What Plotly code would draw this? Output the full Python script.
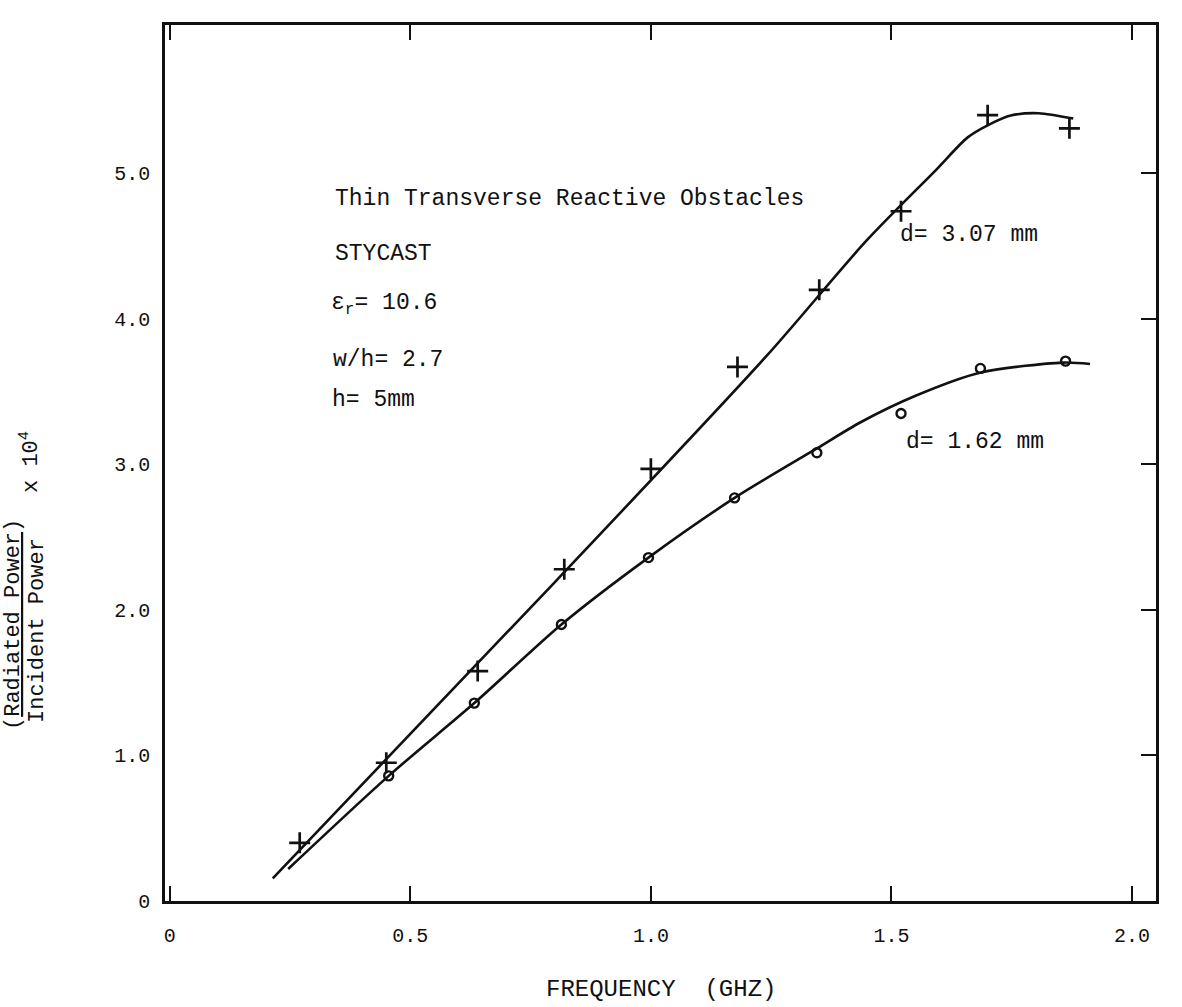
import plotly.graph_objects as go

# ---- data ----
plus_x = [0.27, 0.45, 0.64, 0.82, 1.00, 1.18, 1.35, 1.52, 1.70, 1.87]
plus_y = [0.40, 0.95, 1.58, 2.28, 2.97, 3.67, 4.20, 4.74, 5.40, 5.31]

circ_x = [0.455, 0.633, 0.814, 0.995, 1.174, 1.345, 1.52, 1.685, 1.862]
circ_y = [0.86, 1.36, 1.90, 2.36, 2.77, 3.08, 3.35, 3.66, 3.71]

curve_a_x = [0.214, 0.80, 1.24, 1.449, 1.593, 1.658, 1.701, 1.75, 1.806, 1.878]
curve_a_y = [0.156, 2.19, 3.744, 4.541, 5.025, 5.246, 5.332, 5.399, 5.414, 5.377]

curve_b_x = [0.246, 0.455, 0.633, 0.814, 0.995, 1.174, 1.345, 1.436, 1.549, 1.684, 1.857, 1.913]
curve_b_y = [0.22, 0.86, 1.36, 1.90, 2.36, 2.77, 3.11, 3.29, 3.47, 3.63, 3.70, 3.69]

x_ticks = [0, 0.5, 1.0, 1.5, 2.0]
x_ticktext = ["0", "0.5", "1.0", "1.5", "2.0"]
y_ticks = [0, 1, 2, 3, 4, 5]
y_ticktext = ["0", "1.0", "2.0", "3.0", "4.0", "5.0"]
y_right_ticks = [1, 2, 3, 4, 5]

X_RANGE = [-0.01, 2.05]
Y_RANGE = [0, 6.02]

FONT = "Liberation Mono, Courier New, monospace"
INK = "#111111"

# plot-area geometry (pixels)
L, R, T, B = 165, 1156, 25, 901
W, H = 1182, 1007


def px(x):
    return (x - L) / (R - L)


def py(y):
    return (B - y) / (B - T)


fig = go.Figure()

fig.add_trace(go.Scatter(x=curve_a_x, y=curve_a_y, mode="lines",
                         line=dict(color=INK, width=2.6, shape="spline", smoothing=0.8),
                         showlegend=False, hoverinfo="skip"))
fig.add_trace(go.Scatter(x=curve_b_x, y=curve_b_y, mode="lines",
                         line=dict(color=INK, width=2.6, shape="spline", smoothing=0.8),
                         showlegend=False, hoverinfo="skip"))
fig.add_trace(go.Scatter(x=plus_x, y=plus_y, mode="markers",
                         marker=dict(symbol="cross-thin", size=15, color=INK,
                                     line=dict(color=INK, width=2.7)),
                         showlegend=False))
fig.add_trace(go.Scatter(x=circ_x, y=circ_y, mode="markers",
                         marker=dict(symbol="circle-open", size=9, color=INK,
                                     line=dict(color=INK, width=2.4)),
                         showlegend=False))
# helper (empty) trace so the right-hand tick axis is drawn
fig.add_trace(go.Scatter(x=[], y=[], yaxis="y2", showlegend=False))

annotations = []


def note(text, x, y, size, xanchor="left", angle=0):
    annotations.append(dict(text=text, x=px(x), y=py(y), xref="paper", yref="paper",
                            xanchor=xanchor, yanchor="middle", showarrow=False,
                            textangle=angle,
                            font=dict(family=FONT, size=size, color=INK)))


note("Thin Transverse Reactive Obstacles", 333, 199, 23)
note("STYCAST", 333, 254, 23)
note("ε<sub>r</sub>= 10.6", 329, 304, 23)
note("w/h= 2.7", 331, 360, 23)
note("h= 5mm", 330, 400, 23)
note("d= 3.07 mm", 898, 235, 23)
note("d= 1.62 mm", 904, 442, 23)

note("FREQUENCY  (GHZ)", 661, 990, 24, xanchor="center")
note("(<u>Radiated Power</u>)", 13, 625, 22, xanchor="center", angle=-90)
note("Incident Power", 37, 631, 22, xanchor="center", angle=-90)
note("x 10<sup>4</sup>", 30, 462, 22, xanchor="center", angle=-90)

fig.update_layout(
    width=W, height=H,
    margin=dict(l=L, r=W - R, t=T, b=H - B),
    paper_bgcolor="white", plot_bgcolor="white",
    showlegend=False,
    annotations=annotations,
    xaxis=dict(range=X_RANGE, tickvals=x_ticks, ticktext=x_ticktext,
               ticks="inside", ticklen=15, tickwidth=2.2, tickcolor=INK,
               showline=True, linecolor=INK, linewidth=2.6, mirror="ticks",
               showgrid=False, zeroline=False, ticklabelstandoff=14,
               tickfont=dict(family=FONT, size=20, color=INK)),
    yaxis=dict(range=Y_RANGE, tickvals=y_ticks, ticktext=y_ticktext,
               ticks="", showline=True, linecolor=INK, linewidth=2.6,
               showgrid=False, zeroline=False, ticklabelstandoff=8,
               tickfont=dict(family=FONT, size=20, color=INK)),
    yaxis2=dict(range=Y_RANGE, overlaying="y", side="right", tickvals=y_right_ticks,
                ticks="inside", ticklen=15, tickwidth=2.2, tickcolor=INK,
                showticklabels=False, showline=True, linecolor=INK, linewidth=2.6,
                showgrid=False, zeroline=False),
)

fig.write_html("out.html")
